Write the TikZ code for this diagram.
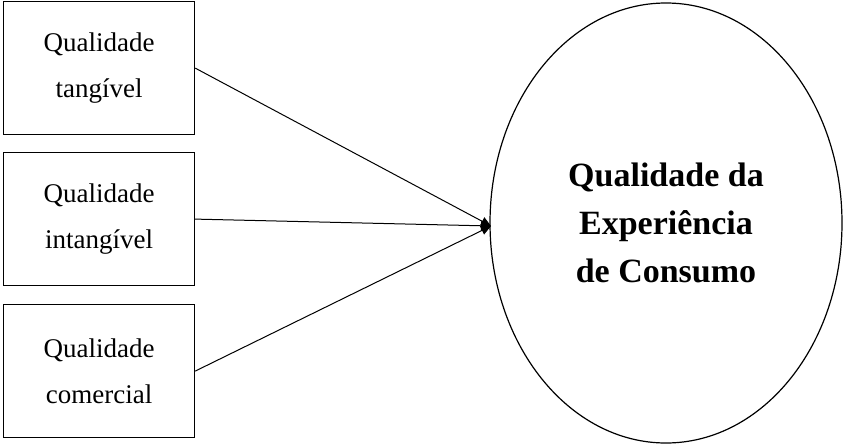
\documentclass[tikz,border=0pt]{standalone}
\usepackage{fontspec}
\setmainfont{Liberation Serif}
\usetikzlibrary{arrows.meta,shapes.geometric}
\begin{document}
\begin{tikzpicture}[x=1pt,y=-1pt,
  box/.style={draw,line width=1.2pt,minimum width=191pt,minimum height=133pt,anchor=north west,align=center,font=\fontsize{27}{46}\selectfont},
  conn/.style={line width=1pt,-{Triangle[length=10pt,width=9pt]}}]
\useasboundingbox (0,0) rectangle (850,447);
\node[box] (a) at (3,1) {Qualidade\\tangível};
\node[box] (b) at (3,152) {Qualidade\\intangível};
\node[box] (c) at (3,304) {Qualidade\\comercial};
\node[draw,line width=1.2pt,ellipse,minimum width=352pt,minimum height=440pt,inner sep=0pt,align=center,font=\bfseries\fontsize{34}{48}\selectfont] (e) at (666,223) {Qualidade da\\Experiência\\de Consumo};
\coordinate (t) at (491,226);
\draw[conn] (a.east) -- (t);
\draw[conn] (b.east) -- (t);
\draw[conn] (c.east) -- (t);
\end{tikzpicture}
\end{document}
